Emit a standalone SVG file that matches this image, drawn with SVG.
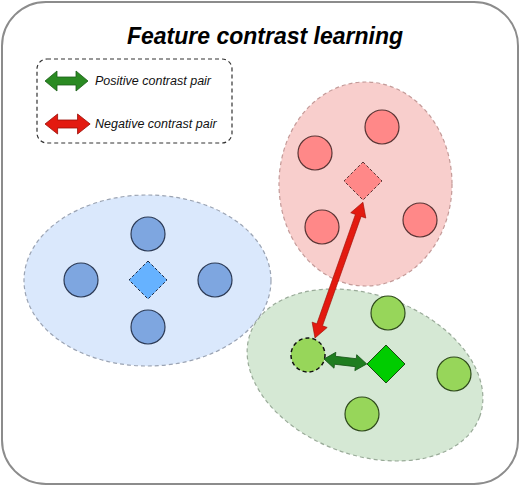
<svg xmlns="http://www.w3.org/2000/svg" width="520" height="486" viewBox="0 0 520 486">
<style>
.title{font-family:"Liberation Sans",Arial,sans-serif;font-weight:bold;font-style:italic;font-size:23px;fill:#000}
.leg{font-family:"Liberation Sans",Arial,sans-serif;font-style:italic;font-size:12.5px;fill:#111}
.rc{fill:#ff8888;stroke:#5a3535;stroke-width:1.2}
.bc{fill:#7ea6e0;stroke:#2c3a55;stroke-width:1.2}
.gc{fill:#97d65a;stroke:#2f4a1c;stroke-width:1.2}
.ell{stroke-width:1.2;stroke-dasharray:4 3}
</style>
<defs>
<path id="dbl" d="M0,0 L12,-10 L12,-4 L31,-4 L31,-10 L43,0 L31,10 L31,4 L12,4 L12,10 Z"/>
</defs>
<rect x="2" y="2" width="516" height="482" rx="44" ry="44" fill="#fff" stroke="#8c8c8c" stroke-width="2"/>
<text class="title" x="265" y="44" text-anchor="middle">Feature contrast learning</text>

<g id="legend">
<rect x="37" y="59" width="195" height="84" rx="10" ry="10" fill="none" stroke="#333" stroke-width="1.2" stroke-dasharray="4 3"/>
<g transform="translate(45,81)"><use href="#dbl" fill="#2a8a22" stroke="#1b5e16" stroke-width="0.8"/></g>
<text class="leg" x="95" y="85">Positive contrast pair</text>
<g transform="translate(45,124) scale(1.05,1)"><use href="#dbl" fill="#e31a10" stroke="#9b1008" stroke-width="0.8"/></g>
<text class="leg" x="95" y="128">Negative contrast pair</text>
</g>

<g id="red-cluster">
<ellipse class="ell" cx="365.5" cy="184" rx="86.5" ry="102" fill="#f8cecc" stroke="#c49a98"/>
<circle class="rc" cx="382" cy="127" r="17"/>
<circle class="rc" cx="315" cy="153" r="17"/>
<circle class="rc" cx="322" cy="227" r="17"/>
<circle class="rc" cx="420" cy="220" r="17"/>
<polygon id="red-center" points="363,162 382,181 363,200 344,181" fill="#ff8888" stroke="#5a3535" stroke-width="1" stroke-dasharray="3 2"/>
</g>

<g id="blue-cluster">
<ellipse class="ell" cx="147.5" cy="280.5" rx="123.5" ry="85.5" fill="#dae8fc" stroke="#9aa3b3"/>
<circle class="bc" cx="148" cy="234" r="17"/>
<circle class="bc" cx="81" cy="280" r="17"/>
<circle class="bc" cx="215" cy="280" r="17"/>
<circle class="bc" cx="148" cy="327" r="17"/>
<polygon id="blue-center" points="148,261 167,280 148,299 129,280" fill="#66b2ff" stroke="#1d2b44" stroke-width="1" stroke-dasharray="3 2"/>
</g>

<g id="green-cluster">
<ellipse class="ell" cx="365" cy="375" rx="122" ry="80" transform="rotate(20 365 375)" fill="#d5e8d4" stroke="#9aab99"/>
<circle class="gc" cx="388" cy="313" r="17"/>
<circle class="gc" cx="454" cy="374" r="17"/>
<circle class="gc" cx="362" cy="414" r="17"/>
<circle id="anchor" cx="308" cy="355" r="17" fill="#97d65a" stroke="#111" stroke-width="1.5" stroke-dasharray="4 3"/>
<polygon id="green-center" points="386,345 405,364 386,383 367,364" fill="#00cc00" stroke="#1b4a12" stroke-width="1"/>
</g>

<g id="connectors">
<path transform="translate(315,338) rotate(-70.56)" d="M0,0 L14,-8 L14,-3 L130,-3 L130,-8 L144,0 L130,8 L130,3 L14,3 L14,8 Z" fill="#e31a10" stroke="#a01008" stroke-width="0.6"/>
<path transform="translate(324,359) rotate(6.6)" d="M0,0 L11,-8 L11,-4 L32,-4 L32,-8 L43,0 L32,8 L32,4 L11,4 L11,8 Z" fill="#1f7d1f" stroke="#155515" stroke-width="0.8"/>
</g>
</svg>
